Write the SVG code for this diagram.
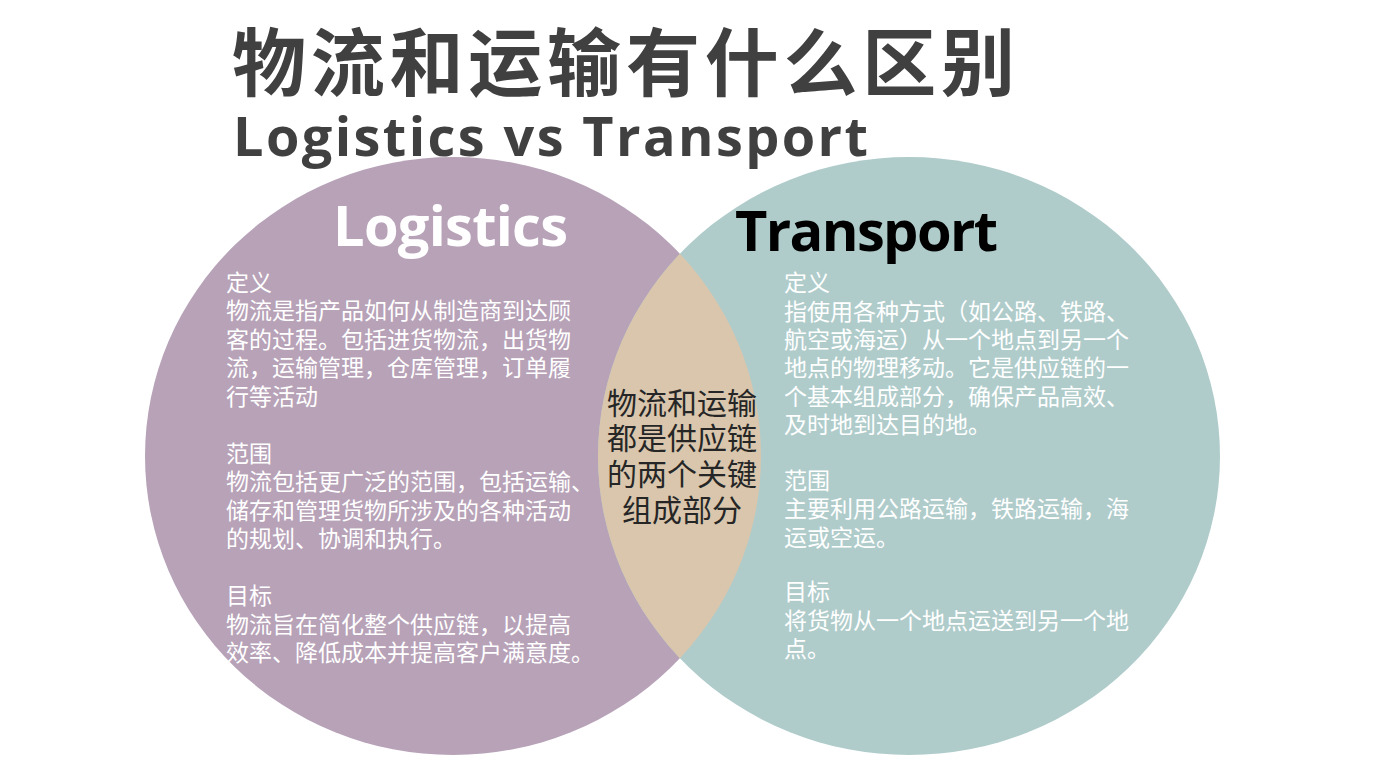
<svg xmlns="http://www.w3.org/2000/svg" width="1384" height="783" viewBox="0 0 1384 783">
<style>
.t{font-family:"Noto Sans CJK SC","Noto Sans",sans-serif;}
.b{fill:#fff;font-size:23px;font-family:"Noto Sans CJK SC",sans-serif;}
.c{fill:#262626;font-size:30px;font-family:"Noto Sans CJK SC",sans-serif;text-anchor:middle;}
</style>
<defs><clipPath id="cl"><ellipse cx="453" cy="456" rx="308" ry="299"/></clipPath></defs>
<rect width="1384" height="783" fill="#fff"/>
<g id="title">
<text x="232" y="90" class="t" font-size="74" font-weight="bold" fill="#404040" textLength="783">物流和运输有什么区别</text>
<text x="233" y="156" font-family="Open Sans,sans-serif" font-size="54" font-weight="bold" fill="#404040" textLength="635">Logistics vs Transport</text>
</g>
<g id="logistics">
<ellipse cx="453" cy="456" rx="308" ry="299" fill="#b7a2b8"/>
</g>
<g id="transport">
<ellipse cx="909" cy="456" rx="311" ry="299" fill="#afcccb"/>
</g>
<g id="overlap">
<ellipse cx="909" cy="456" rx="311" ry="299" fill="#d9c6ad" clip-path="url(#cl)"/>
<text class="c" x="682" y="414">物流和运输</text>
<text class="c" x="682" y="449">都是供应链</text>
<text class="c" x="682" y="485">的两个关键</text>
<text class="c" x="682" y="521">组成部分</text>
</g>
<g id="logistics-text">
<text x="333" y="246" font-family="Open Sans,sans-serif" font-size="56" font-weight="bold" fill="#fff" textLength="235">Logistics</text>
<text class="b" x="226" y="291">定义</text>
<text class="b" x="226" y="319">物流是指产品如何从制造商到达顾</text>
<text class="b" x="226" y="348">客的过程。包括进货物流，出货物</text>
<text class="b" x="226" y="376">流，运输管理，仓库管理，订单履</text>
<text class="b" x="226" y="405">行等活动</text>
<text class="b" x="226" y="462">范围</text>
<text class="b" x="226" y="490">物流包括更广泛的范围，包括运输、</text>
<text class="b" x="226" y="519">储存和管理货物所涉及的各种活动</text>
<text class="b" x="226" y="547">的规划、协调和执行。</text>
<text class="b" x="226" y="604">目标</text>
<text class="b" x="226" y="633">物流旨在简化整个供应链，以提高</text>
<text class="b" x="226" y="661">效率、降低成本并提高客户满意度。</text>
</g>
<g id="transport-text">
<text x="735" y="251" font-family="Open Sans,sans-serif" font-size="56" font-weight="bold" fill="#000" textLength="263">Transport</text>
<text class="b" x="784" y="291">定义</text>
<text class="b" x="784" y="320">指使用各种方式（如公路、铁路、</text>
<text class="b" x="784" y="348">航空或海运）从一个地点到另一个</text>
<text class="b" x="784" y="376">地点的物理移动。它是供应链的一</text>
<text class="b" x="784" y="405">个基本组成部分，确保产品高效、</text>
<text class="b" x="784" y="433">及时地到达目的地。</text>
<text class="b" x="784" y="489">范围</text>
<text class="b" x="784" y="517">主要利用公路运输，铁路运输，海</text>
<text class="b" x="784" y="546">运或空运。</text>
<text class="b" x="784" y="600">目标</text>
<text class="b" x="784" y="629">将货物从一个地点运送到另一个地</text>
<text class="b" x="784" y="657">点。</text>
</g>
</svg>
